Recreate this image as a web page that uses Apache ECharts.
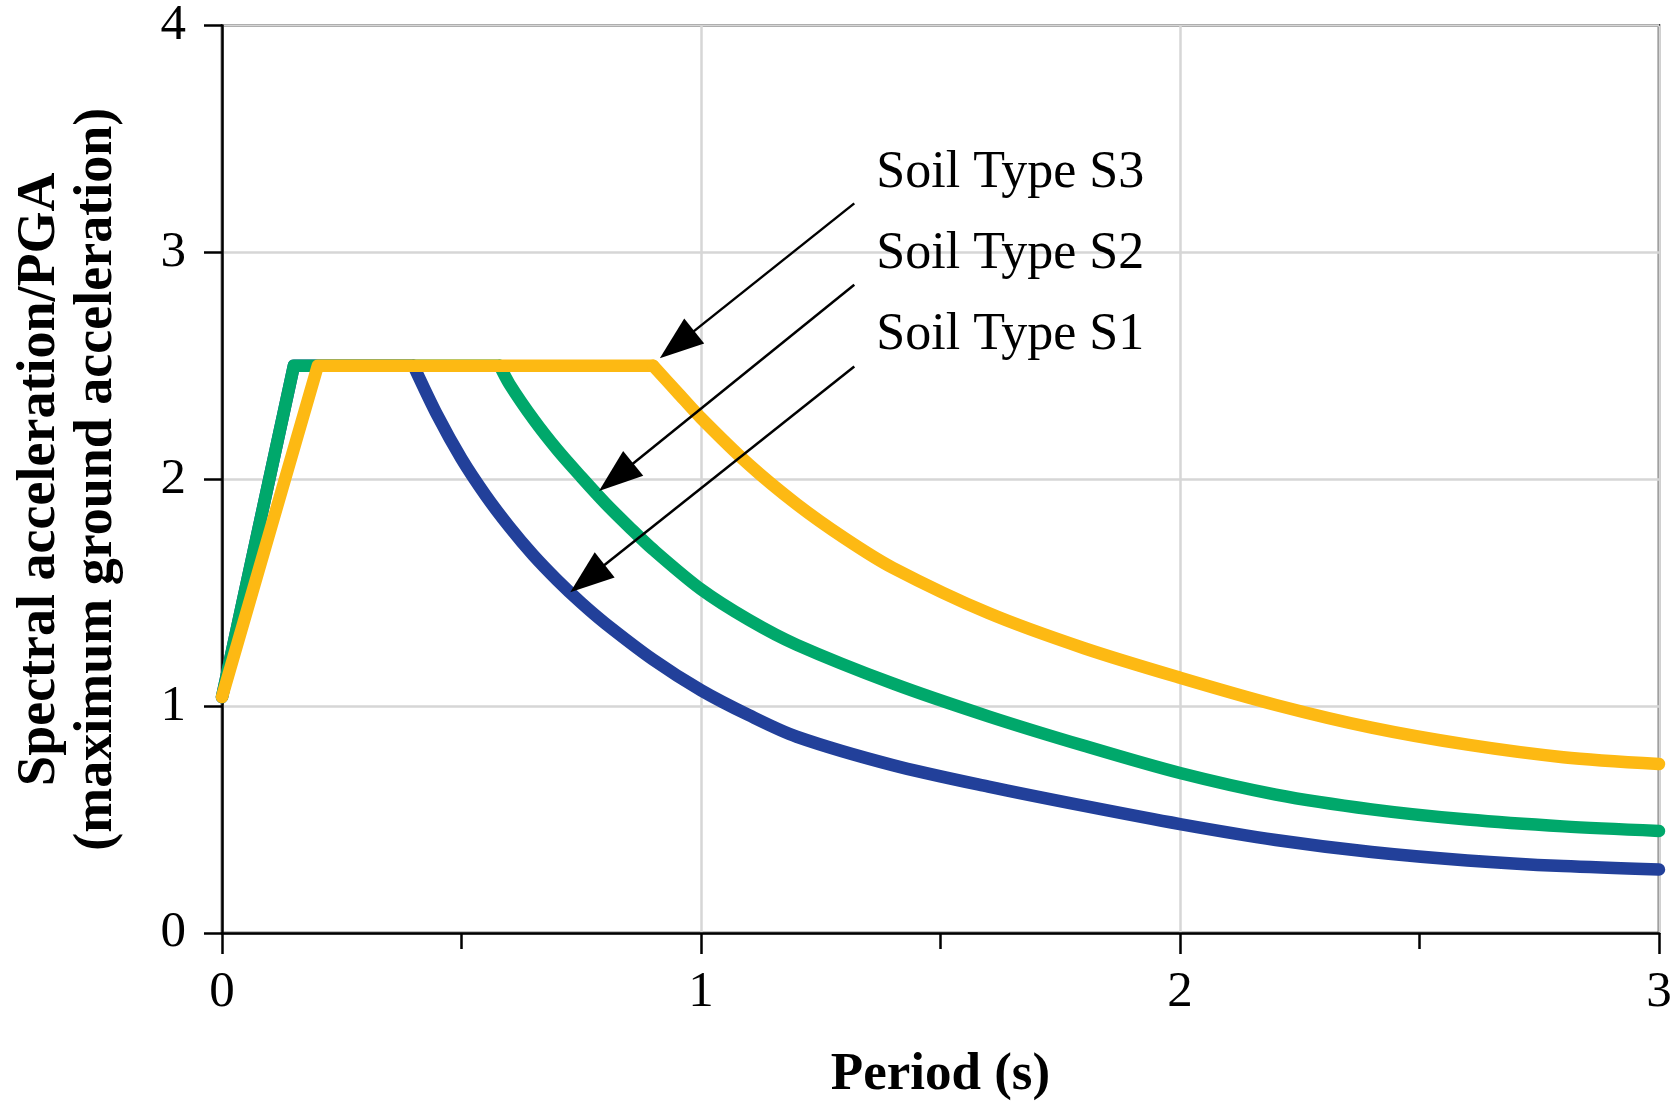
<!DOCTYPE html>
<html>
<head>
<meta charset="utf-8">
<script src="https://cdn.jsdelivr.net/npm/echarts@6/dist/echarts.min.js"></script>
<style>
html,body{margin:0;padding:0;background:#fff;}
#chart{width:1676px;height:1107px;}
</style>
</head>
<body>
<div id="chart"></div>
<script>
// ---------- data ----------
const xTickLabels = [0, 1, 2, 3];
const yTickLabels = [0, 1, 2, 3, 4];

const s1Period = [0, 0.15, 0.4, 0.45, 0.5, 0.55, 0.6, 0.65, 0.7, 0.75, 0.8, 0.9, 1.0, 1.1, 1.2, 1.4, 1.6, 1.8, 2.0, 2.2, 2.4, 2.6, 2.8, 3.0];
const s1Value  = [1.04, 2.5, 2.5, 2.28, 2.09, 1.93, 1.79, 1.665, 1.555, 1.455, 1.365, 1.205, 1.07, 0.96, 0.865, 0.74, 0.645, 0.56, 0.48, 0.41, 0.357, 0.32, 0.295, 0.28];

const s2Period = [0, 0.15, 0.58, 0.6, 0.65, 0.7, 0.75, 0.8, 0.85, 0.9, 1.0, 1.1, 1.2, 1.4, 1.6, 1.8, 2.0, 2.2, 2.4, 2.6, 2.8, 3.0];
const s2Value  = [1.04, 2.5, 2.5, 2.42, 2.265, 2.13, 2.01, 1.895, 1.79, 1.69, 1.515, 1.38, 1.27, 1.1, 0.955, 0.825, 0.705, 0.61, 0.545, 0.5, 0.47, 0.45];

const s3Period = [0, 0.2, 0.9, 0.95, 1.0, 1.1, 1.2, 1.3, 1.4, 1.6, 1.8, 2.0, 2.2, 2.4, 2.6, 2.8, 3.0];
const s3Value  = [1.04, 2.5, 2.5, 2.385, 2.27, 2.065, 1.89, 1.74, 1.61, 1.41, 1.255, 1.125, 1.005, 0.905, 0.83, 0.775, 0.745];

const seriesNames = ['Soil Type S1', 'Soil Type S2', 'Soil Type S3'];
const seriesColors = ['#22409a', '#00a86b', '#fdb913'];

// annotation labels
const labelPeriod = [1.366, 1.366, 1.366];
const labelValue  = [3.35, 2.993, 2.633];
const labelText   = ['Soil Type S3', 'Soil Type S2', 'Soil Type S1'];

// arrows: tail (period, value) -> tip (period, value)
const arrowTailPeriod = [1.320, 1.320, 1.320];
const arrowTailValue  = [3.216, 2.857, 2.497];
const arrowTipPeriod  = [0.914, 0.787, 0.727];
const arrowTipValue   = [2.533, 1.948, 1.502];

// ---------- chart ----------
const FONT = '"Liberation Serif", "DejaVu Serif", serif';
const zip = (a, b) => a.map((v, i) => [v, b[i]]);
const HEAD_LEN = 44, HEAD_W = 32;

function arrowData(endPts) {
  return arrowTailPeriod.map((_, i) => [
    { coord: [arrowTailPeriod[i], arrowTailValue[i]] },
    { coord: endPts ? endPts[i] : [arrowTipPeriod[i], arrowTipValue[i]] }
  ]);
}

const chart = echarts.init(document.getElementById('chart'), null, { renderer: 'canvas' });

const lineSeries = [];
[[s1Period, s1Value], [s2Period, s2Value], [s3Period, s3Value]].forEach((d, i) => {
  const pts = zip(d[0], d[1]);
  const peak = Math.max.apply(null, d[1]);
  let split = 0;
  d[1].forEach((v, k) => { if (v === peak) split = k; });
  const common = {
    name: seriesNames[i], type: 'line', showSymbol: false, symbol: 'none', clip: false,
    z: 2 + i, emphasis: { disabled: true },
    lineStyle: { color: seriesColors[i], width: 12.5, cap: 'round', join: 'round' }
  };
  lineSeries.push(Object.assign({}, common, { data: pts.slice(0, split + 1), smooth: false }));
  lineSeries.push(Object.assign({}, common, { data: pts.slice(split), smooth: 0.3 }));
});

const option = {
  backgroundColor: '#fff',
  animation: false,
  grid: { left: 222, right: 17, top: 25, bottom: 157, show: true, borderColor: '#000', borderWidth: 2.5, backgroundColor: 'transparent' },
  xAxis: {
    type: 'value', min: 0, max: 3, interval: 1,
    name: 'Period (s)', nameLocation: 'middle', nameGap: 116,
    nameTextStyle: { fontFamily: FONT, fontWeight: 'bold', fontSize: 53, color: '#000' },
    axisLine: { show: true, onZero: false, lineStyle: { color: '#000', width: 2.5 } },
    axisTick: { show: true, length: 21, lineStyle: { color: '#000', width: 2.5 } },
    minorTick: { show: true, splitNumber: 2, length: 16, lineStyle: { color: '#000', width: 2.5 } },
    splitLine: { show: true, lineStyle: { color: '#d6d6d6', width: 2.5 } },
    axisLabel: { fontFamily: FONT, fontSize: 51, color: '#000', margin: 34,
      formatter: v => xTickLabels.includes(v) ? String(v) : '' }
  },
  yAxis: {
    type: 'value', min: 0, max: 4, interval: 1,
    name: 'Spectral acceleration/PGA\n(maximum ground acceleration)',
    nameLocation: 'middle', nameGap: 96, nameRotate: 90,
    nameTextStyle: { fontFamily: FONT, fontWeight: 'bold', fontSize: 54, lineHeight: 57, color: '#000' },
    axisLine: { show: true, onZero: false, lineStyle: { color: '#000', width: 2.5 } },
    axisTick: { show: true, length: 18, lineStyle: { color: '#000', width: 2.5 } },
    splitLine: { show: true, lineStyle: { color: '#d6d6d6', width: 2.5 } },
    axisLabel: { fontFamily: FONT, fontSize: 51, color: '#000', margin: 36,
      formatter: v => yTickLabels.includes(v) ? String(v) : '' }
  },
  series: lineSeries.concat([{
    name: 'annotations',
    type: 'scatter',
    symbolSize: 0,
    z: 10,
    silent: true,
    itemStyle: { opacity: 1 },
    data: labelPeriod.map((p, i) => [p, labelValue[i], labelText[i]]),
    label: { show: true, position: 'right', distance: 0, fontFamily: FONT, fontSize: 52, color: '#000', opacity: 1,
      formatter: p => p.data[2] },
    markLine: {
      silent: true, animation: false,
      symbol: ['none', 'triangle'], symbolSize: [HEAD_W, HEAD_LEN],
      lineStyle: { color: '#000', width: 2.5, type: 'solid', opacity: 1 },
      itemStyle: { color: '#000' },
      label: { show: false },
      emphasis: { disabled: true },
      data: arrowData(null)
    }
  }])
};

chart.setOption(option);

// place arrowhead centres so the tip lands on the read tip point
const ends = arrowTailPeriod.map((_, i) => {
  const a = chart.convertToPixel({ gridIndex: 0 }, [arrowTailPeriod[i], arrowTailValue[i]]);
  const b = chart.convertToPixel({ gridIndex: 0 }, [arrowTipPeriod[i], arrowTipValue[i]]);
  const dx = b[0] - a[0], dy = b[1] - a[1];
  const L = Math.hypot(dx, dy);
  const c = [b[0] - dx / L * HEAD_LEN / 2, b[1] - dy / L * HEAD_LEN / 2];
  return chart.convertFromPixel({ gridIndex: 0 }, c);
});
const upd = lineSeries.map(() => ({}));
upd.push({ markLine: { data: arrowData(ends) } });
chart.setOption({ series: upd });
</script>
</body>
</html>
